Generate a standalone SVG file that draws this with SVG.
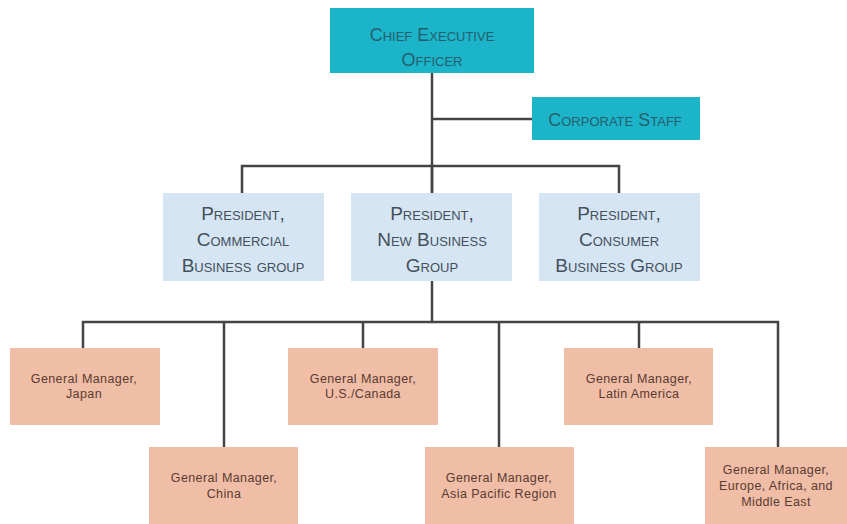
<svg xmlns="http://www.w3.org/2000/svg" width="847" height="524" viewBox="0 0 847 524">
  <style>
    .exec { fill: #1cb4c9; }
    .pres { fill: #d5e5f3; }
    .gm { fill: #f0bda7; }
    .link { fill: none; stroke: #444; stroke-width: 2.5; }
    text { font-family: "Liberation Sans", Arial, sans-serif; text-anchor: middle; }
    .tExec { font-size: 18px; font-variant: small-caps; fill: #26606e; }
    .tPres { font-size: 19px; font-variant: small-caps; fill: #44505c; }
    .tGm { font-size: 12.5px; letter-spacing: 0.4px; fill: #5a3b30; }
  </style>

  <!-- connectors -->
  <g id="connectors">
    <path class="link" d="M432 73 V281"/>
    <path class="link" d="M432 119 H532"/>
    <path class="link" d="M242 193 V166 H619 V193"/>
    <path class="link" d="M432 166 V193"/>
    <path class="link" d="M432 281 V322"/>
    <path class="link" d="M83 348 V322 H778 V447"/>
    <path class="link" d="M224 322 V447"/>
    <path class="link" d="M363 322 V348"/>
    <path class="link" d="M499 322 V447"/>
    <path class="link" d="M639 322 V348"/>
  </g>

  <!-- executive level -->
  <g id="ceo">
    <rect class="exec" x="330" y="8" width="204" height="65"/>
    <text class="tExec" x="432" y="41">Chief Executive</text>
    <text class="tExec" x="432" y="66">Officer</text>
  </g>
  <g id="corporate-staff">
    <rect class="exec" x="532" y="97" width="168" height="43"/>
    <text class="tExec" x="615" y="126">Corporate Staff</text>
  </g>

  <!-- presidents -->
  <g id="pres-commercial">
    <rect class="pres" x="163" y="193" width="161" height="88"/>
    <text class="tPres" x="243" y="220">President,</text>
    <text class="tPres" x="243" y="246">Commercial</text>
    <text class="tPres" x="243" y="272">Business group</text>
  </g>
  <g id="pres-new-business">
    <rect class="pres" x="351" y="193" width="161" height="88"/>
    <text class="tPres" x="432" y="220">President,</text>
    <text class="tPres" x="432" y="246">New Business</text>
    <text class="tPres" x="432" y="272">Group</text>
  </g>
  <g id="pres-consumer">
    <rect class="pres" x="539" y="193" width="161" height="88"/>
    <text class="tPres" x="619" y="220">President,</text>
    <text class="tPres" x="619" y="246">Consumer</text>
    <text class="tPres" x="619" y="272">Business Group</text>
  </g>

  <!-- general managers -->
  <g id="gm-japan">
    <rect class="gm" x="10" y="348" width="150" height="77"/>
    <text class="tGm" x="84" y="383">General Manager,</text>
    <text class="tGm" x="84" y="398">Japan</text>
  </g>
  <g id="gm-china">
    <rect class="gm" x="149" y="447" width="149" height="77"/>
    <text class="tGm" x="224" y="482">General Manager,</text>
    <text class="tGm" x="224" y="498">China</text>
  </g>
  <g id="gm-us-canada">
    <rect class="gm" x="288" y="348" width="150" height="77"/>
    <text class="tGm" x="363" y="383">General Manager,</text>
    <text class="tGm" x="363" y="398">U.S./Canada</text>
  </g>
  <g id="gm-asia-pacific">
    <rect class="gm" x="425" y="447" width="149" height="77"/>
    <text class="tGm" x="499" y="482">General Manager,</text>
    <text class="tGm" x="499" y="498">Asia Pacific Region</text>
  </g>
  <g id="gm-latin-america">
    <rect class="gm" x="564" y="348" width="149" height="77"/>
    <text class="tGm" x="639" y="383">General Manager,</text>
    <text class="tGm" x="639" y="398">Latin America</text>
  </g>
  <g id="gm-emea">
    <rect class="gm" x="705" y="447" width="142" height="77"/>
    <text class="tGm" x="776" y="474">General Manager,</text>
    <text class="tGm" x="776" y="490">Europe, Africa, and</text>
    <text class="tGm" x="776" y="506">Middle East</text>
  </g>
</svg>
